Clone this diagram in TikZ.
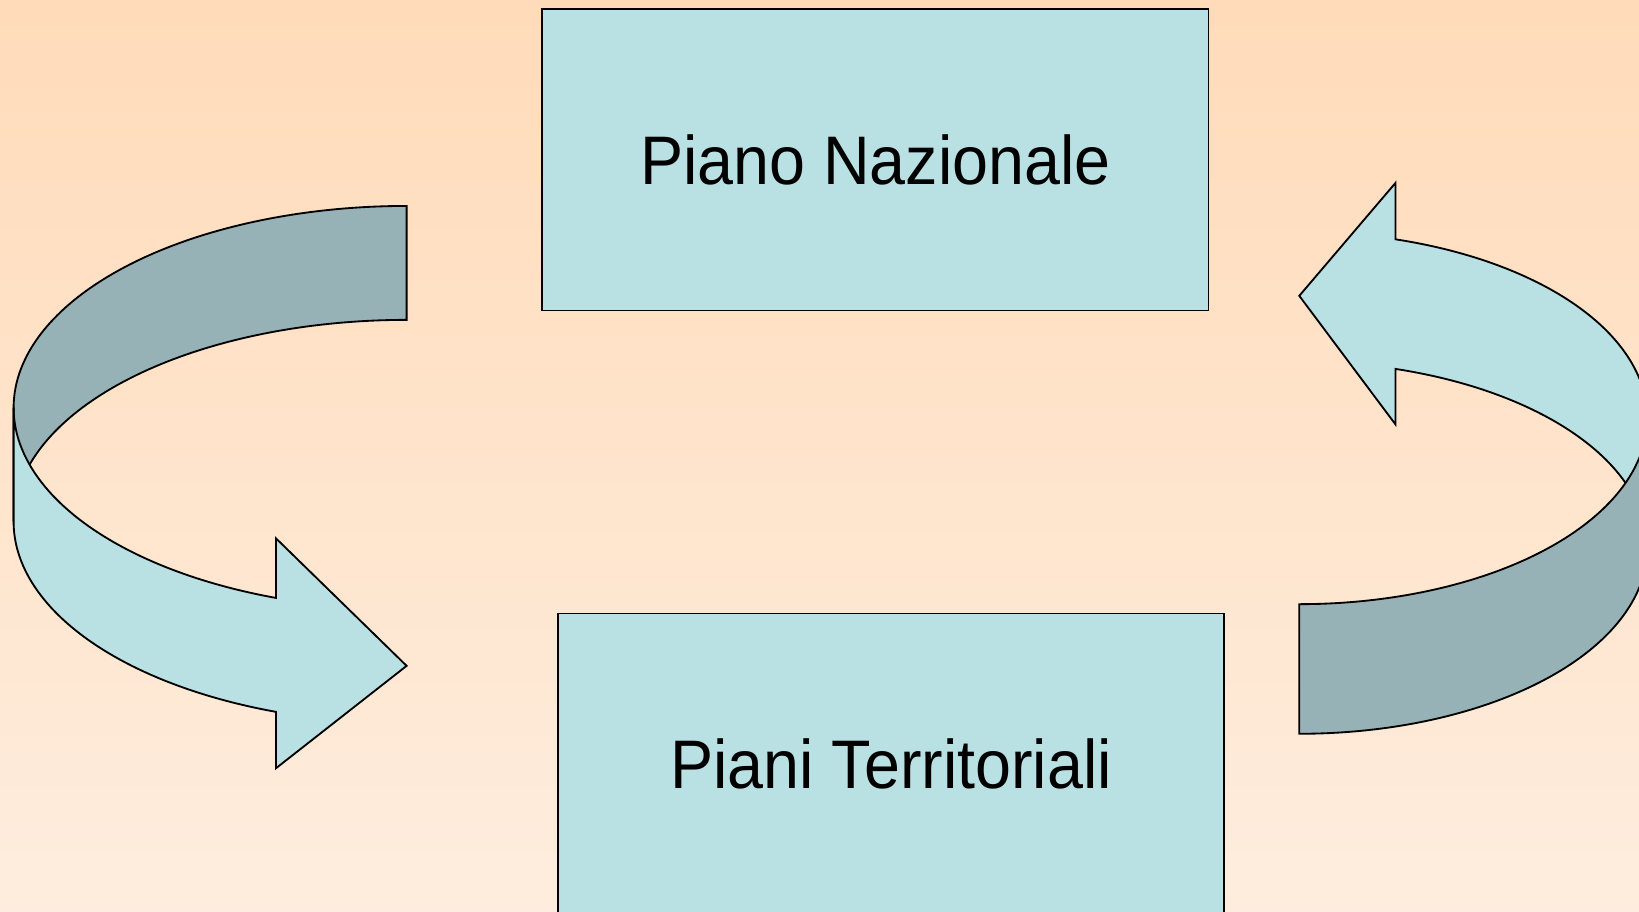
\documentclass[tikz,border=0pt]{standalone}
\usepackage{fontspec}
\newfontfamily\boxfont{Liberation Sans}[FakeStretch=0.94]
\definecolor{boxfill}{RGB}{185,224,227}
\definecolor{bandgray}{RGB}{150,178,182}
\definecolor{bgtop}{RGB}{255,219,185}
\definecolor{bgbottom}{RGB}{254,237,222}
\begin{document}
\begin{tikzpicture}[x=0.01cm,y=-0.01cm,line width=0.5pt,
  planbox/.style={draw=black,fill=boxfill,minimum width=6.37cm,minimum height=2.88cm,inner sep=0pt,
    font=\boxfont\fontsize{18.7}{22}\selectfont},
  bandfront/.style={draw=black,fill=boxfill,line join=miter},
  bandback/.style={draw=black,fill=bandgray,line join=miter}]
\path[use as bounding box] (0,0) rectangle (1568,872);
\clip (0,0) rectangle (1568,872);
\shade[top color=bgtop,bottom color=bgbottom] (0,0) rectangle (1568,872);

% boxes
\node[planbox] (nazionale) at (837.5,153) {Piano Nazionale};
\node[planbox] (territoriali) at (852.5,731) {Piani Territoriali};

% left curved arrow: back band then front band
\draw[bandback] plot[domain=270:180,samples=80] ({389+376*cos(\x)},{390+193*sin(\x)})
  -- plot[domain=180:270,samples=80] ({389+376*cos(\x)},{499+193*sin(\x)}) -- cycle;
\draw[bandfront] plot[domain=109.4:180,samples=80] ({389+376*cos(\x)},{390+193*sin(\x)})
  -- plot[domain=180:109.4,samples=80] ({389+376*cos(\x)},{499+193*sin(\x)})
  -- (264,735) -- (389,637) -- (264,515) -- cycle;

% right curved arrow: front band then back band
\draw[bandfront] plot[domain=286.04:360,samples=80] ({1243+333*cos(\x)},{400+178*sin(\x)})
  -- plot[domain=360:286.04,samples=80] ({1243+333*cos(\x)},{524+178*sin(\x)})
  -- (1335,406) -- (1243,283) -- (1335,175) -- cycle;
\draw[bandback] plot[domain=90:0,samples=80] ({1243+333*cos(\x)},{400+178*sin(\x)})
  -- plot[domain=0:90,samples=80] ({1243+333*cos(\x)},{524+178*sin(\x)}) -- cycle;
\end{tikzpicture}
\end{document}
